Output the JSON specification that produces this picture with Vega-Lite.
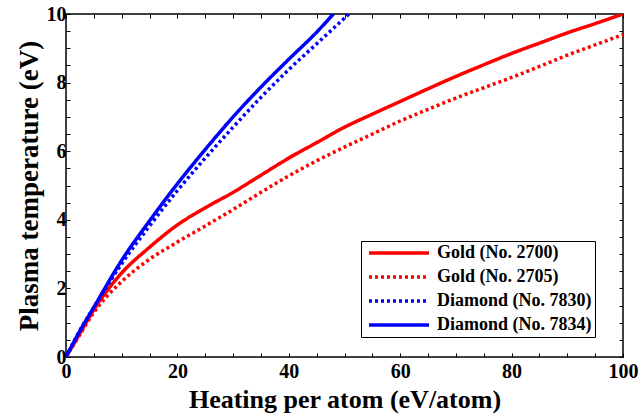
{
  "$schema": "https://vega.github.io/schema/vega-lite/v6.json",
  "width": 557,
  "height": 343,
  "autosize": {"type": "none"},
  "padding": {"left": 66, "top": 14, "right": 16, "bottom": 61},
  "background": "white",
  "config": {
    "view": {"stroke": "black", "strokeWidth": 1.5},
    "font": "Liberation Serif",
    "axis": {
      "labelFont": "Liberation Serif",
      "labelFontWeight": "bold",
      "labelFontSize": 20,
      "labelColor": "black",
      "titleFont": "Liberation Serif",
      "titleFontWeight": "bold",
      "titleFontSize": 26,
      "titleColor": "black",
      "grid": false,
      "domain": false,
      "tickColor": "black",
      "tickSize": -4,
      "tickWidth": 1
    }
  },
  "data": {
    "values": [
      {"series": "Gold (No. 2700)", "x": 0, "y": 0},
      {"series": "Gold (No. 2700)", "x": 2, "y": 0.55},
      {"series": "Gold (No. 2700)", "x": 5, "y": 1.38},
      {"series": "Gold (No. 2700)", "x": 10, "y": 2.45},
      {"series": "Gold (No. 2700)", "x": 15, "y": 3.2},
      {"series": "Gold (No. 2700)", "x": 20, "y": 3.85},
      {"series": "Gold (No. 2700)", "x": 25, "y": 4.35},
      {"series": "Gold (No. 2700)", "x": 30, "y": 4.8},
      {"series": "Gold (No. 2700)", "x": 35, "y": 5.3},
      {"series": "Gold (No. 2700)", "x": 40, "y": 5.8},
      {"series": "Gold (No. 2700)", "x": 45, "y": 6.25},
      {"series": "Gold (No. 2700)", "x": 50, "y": 6.7},
      {"series": "Gold (No. 2700)", "x": 55, "y": 7.08},
      {"series": "Gold (No. 2700)", "x": 60, "y": 7.45},
      {"series": "Gold (No. 2700)", "x": 65, "y": 7.82},
      {"series": "Gold (No. 2700)", "x": 70, "y": 8.18},
      {"series": "Gold (No. 2700)", "x": 75, "y": 8.52},
      {"series": "Gold (No. 2700)", "x": 80, "y": 8.85},
      {"series": "Gold (No. 2700)", "x": 85, "y": 9.15},
      {"series": "Gold (No. 2700)", "x": 90, "y": 9.45},
      {"series": "Gold (No. 2700)", "x": 95, "y": 9.72},
      {"series": "Gold (No. 2700)", "x": 100, "y": 10},
      {"series": "Gold (No. 2705)", "x": 0, "y": 0},
      {"series": "Gold (No. 2705)", "x": 2, "y": 0.52},
      {"series": "Gold (No. 2705)", "x": 5, "y": 1.3},
      {"series": "Gold (No. 2705)", "x": 10, "y": 2.2},
      {"series": "Gold (No. 2705)", "x": 15, "y": 2.85},
      {"series": "Gold (No. 2705)", "x": 20, "y": 3.35},
      {"series": "Gold (No. 2705)", "x": 25, "y": 3.82},
      {"series": "Gold (No. 2705)", "x": 30, "y": 4.3},
      {"series": "Gold (No. 2705)", "x": 35, "y": 4.8},
      {"series": "Gold (No. 2705)", "x": 40, "y": 5.28},
      {"series": "Gold (No. 2705)", "x": 45, "y": 5.72},
      {"series": "Gold (No. 2705)", "x": 50, "y": 6.12},
      {"series": "Gold (No. 2705)", "x": 55, "y": 6.5},
      {"series": "Gold (No. 2705)", "x": 60, "y": 6.88},
      {"series": "Gold (No. 2705)", "x": 65, "y": 7.22},
      {"series": "Gold (No. 2705)", "x": 70, "y": 7.55},
      {"series": "Gold (No. 2705)", "x": 75, "y": 7.85},
      {"series": "Gold (No. 2705)", "x": 80, "y": 8.15},
      {"series": "Gold (No. 2705)", "x": 85, "y": 8.47},
      {"series": "Gold (No. 2705)", "x": 90, "y": 8.8},
      {"series": "Gold (No. 2705)", "x": 95, "y": 9.1},
      {"series": "Gold (No. 2705)", "x": 100, "y": 9.4},
      {"series": "Diamond (No. 7830)", "x": 0, "y": 0},
      {"series": "Diamond (No. 7830)", "x": 2.5, "y": 0.78},
      {"series": "Diamond (No. 7830)", "x": 5, "y": 1.45},
      {"series": "Diamond (No. 7830)", "x": 10, "y": 2.72},
      {"series": "Diamond (No. 7830)", "x": 15, "y": 3.82},
      {"series": "Diamond (No. 7830)", "x": 20, "y": 4.85},
      {"series": "Diamond (No. 7830)", "x": 25, "y": 5.8},
      {"series": "Diamond (No. 7830)", "x": 30, "y": 6.7},
      {"series": "Diamond (No. 7830)", "x": 35, "y": 7.57},
      {"series": "Diamond (No. 7830)", "x": 40, "y": 8.38},
      {"series": "Diamond (No. 7830)", "x": 45, "y": 9.13},
      {"series": "Diamond (No. 7830)", "x": 50, "y": 9.88},
      {"series": "Diamond (No. 7830)", "x": 50.8, "y": 10},
      {"series": "Diamond (No. 7834)", "x": 0, "y": 0},
      {"series": "Diamond (No. 7834)", "x": 2.5, "y": 0.76},
      {"series": "Diamond (No. 7834)", "x": 5, "y": 1.45},
      {"series": "Diamond (No. 7834)", "x": 10, "y": 2.82},
      {"series": "Diamond (No. 7834)", "x": 15, "y": 3.97},
      {"series": "Diamond (No. 7834)", "x": 20, "y": 5.05},
      {"series": "Diamond (No. 7834)", "x": 25, "y": 6.05},
      {"series": "Diamond (No. 7834)", "x": 30, "y": 7.0},
      {"series": "Diamond (No. 7834)", "x": 35, "y": 7.87},
      {"series": "Diamond (No. 7834)", "x": 40, "y": 8.68},
      {"series": "Diamond (No. 7834)", "x": 45, "y": 9.47},
      {"series": "Diamond (No. 7834)", "x": 48, "y": 10}
    ]
  },
  "resolve": {"axis": {"x": "independent", "y": "independent"}},
  "layer": [
    {
      "mark": {"type": "line", "strokeWidth": 3.5, "strokeCap": "butt", "interpolate": "monotone", "clip": true},
      "encoding": {
        "x": {
          "field": "x", "type": "quantitative",
          "scale": {"domain": [0, 100], "nice": false, "zero": false},
          "axis": {
            "orient": "bottom",
            "title": "Heating per atom (eV/atom)",
            "values": [0,5,10,15,20,25,30,35,40,45,50,55,60,65,70,75,80,85,90,95,100],
            "labelExpr": "datum.value % 20 === 0 ? format(datum.value, 'd') : ''",
            "labelPadding": 8,
            "titlePadding": 5,
            "labelFlush": false
          }
        },
        "y": {
          "field": "y", "type": "quantitative",
          "scale": {"domain": [0, 10], "nice": false, "zero": false},
          "axis": {
            "orient": "left",
            "title": "Plasma temperature (eV)",
            "titleFontSize": 27,
            "values": [0,0.5,1,1.5,2,2.5,3,3.5,4,4.5,5,5.5,6,6.5,7,7.5,8,8.5,9,9.5,10],
            "labelExpr": "datum.value % 2 === 0 ? format(datum.value, 'd') : ''",
            "labelPadding": 4,
            "titlePadding": 3,
            "labelFlush": false
          }
        },
        "color": {
          "field": "series", "type": "nominal",
          "scale": {
            "domain": ["Gold (No. 2700)", "Gold (No. 2705)", "Diamond (No. 7830)", "Diamond (No. 7834)"],
            "range": ["#ff0000", "#ff0000", "#0000ff", "#0000ff"]
          },
          "legend": {
            "title": null,
            "orient": "none",
            "legendX": 295,
            "legendY": 227,
            "fillColor": "white",
            "strokeColor": "black",
            "padding": 3,
            "symbolType": "M-5,0H5",
            "symbolSize": 144,
            "symbolStrokeWidth": 3.5,
            "symbolOffset": 26,
            "labelFont": "Liberation Serif",
            "labelFontWeight": "bold",
            "labelFontSize": 18,
            "labelColor": "black",
            "labelOffset": 29,
            "rowPadding": 6,
            "labelLimit": 300
          }
        },
        "strokeDash": {
          "field": "series", "type": "nominal",
          "scale": {
            "domain": ["Gold (No. 2700)", "Gold (No. 2705)", "Diamond (No. 7830)", "Diamond (No. 7834)"],
            "range": [[1, 0], [3, 3], [3, 3], [1, 0]]
          },
          "legend": {
            "title": null,
            "orient": "none",
            "legendX": 295,
            "legendY": 227
          }
        }
      }
    },
    {
      "mark": {"type": "point", "opacity": 0},
      "encoding": {
        "x": {
          "field": "x", "type": "quantitative",
          "scale": {"domain": [0, 100], "nice": false, "zero": false},
          "axis": {
            "orient": "top",
            "title": null,
            "values": [0,5,10,15,20,25,30,35,40,45,50,55,60,65,70,75,80,85,90,95,100],
            "labels": false
          }
        },
        "y": {
          "field": "y", "type": "quantitative",
          "scale": {"domain": [0, 10], "nice": false, "zero": false},
          "axis": {
            "orient": "right",
            "title": null,
            "values": [0,0.5,1,1.5,2,2.5,3,3.5,4,4.5,5,5.5,6,6.5,7,7.5,8,8.5,9,9.5,10],
            "labels": false
          }
        }
      }
    }
  ]
}
